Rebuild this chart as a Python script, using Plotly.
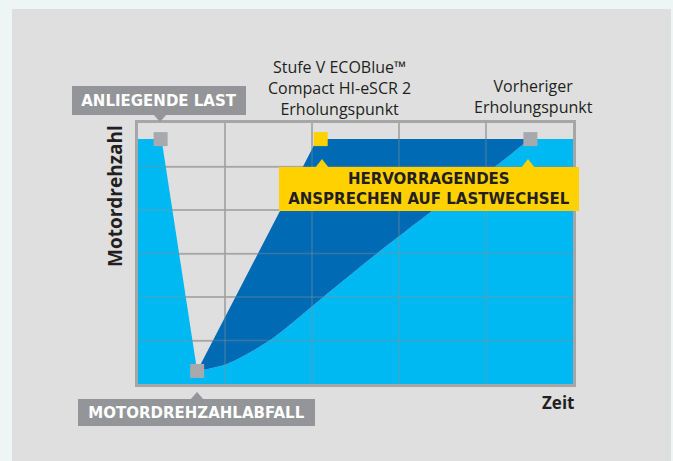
import plotly.graph_objects as go

# ---- data (chart units: x = time columns 0..5, y = engine speed rows 0..6) ----
top_level = 5.63
load_x, load_y = 0.27, 5.63          # "ANLIEGENDE LAST" corner of the light-blue area
drop_x, drop_y = 0.68, 0.30          # "MOTORDREHZAHLABFALL" point
new_rec_x = 2.06                      # Stufe V recovery corner
old_rec_x = 4.50                      # previous recovery point

# previous engine recovery curve (lower edge of dark blue region)
curve_x = [0.68, 1.02, 1.52, 2.13, 2.74, 3.47, 4.16, 4.50]
curve_y = [0.30, 0.46, 1.01, 2.00, 2.99, 4.11, 5.08, 5.63]

marker_x = [0.26, 0.68, 2.10, 4.51]
marker_y = [5.63, 0.30, 5.63, 5.63]
marker_colors = ["#a7a9ac", "#a7a9ac", "#ffd100", "#a7a9ac"]

x_grid = [1, 2, 3, 4]
y_grid = [1, 2, 3, 4, 5]

title_new = ["Stufe V ECOBlue™", "Compact HI-eSCR 2", "Erholungspunkt"]
title_old = ["Vorheriger", "Erholungspunkt"]

LIGHT_BLUE = "#00b9f2"
DARK_BLUE = "#006ab5"
GRAY_BOX = "#939598"
YELLOW = "#ffd100"
TXT = "#231f20"
FONT = "'Open Sans', Roboto, sans-serif"
FONT_BOX = "'DejaVu Sans', 'Open Sans', sans-serif"

# plot area in pixels
L, R, T, B = 138, 573, 123, 384
W, H = 673, 461


def px(x):
    return (x - L) / (R - L)


def py(y):
    return (B - y) / (B - T)


fig = go.Figure()

# light blue region: curve (spline) + outer boundary filled to it
fig.add_trace(go.Scatter(x=curve_x, y=curve_y, mode="lines",
                         line=dict(width=0, shape="spline", smoothing=0.8),
                         hoverinfo="skip"))
lb_x = [drop_x, load_x, 0, 0, 5, 5, old_rec_x]
lb_y = [drop_y, load_y, top_level, 0, 0, top_level, top_level]
fig.add_trace(go.Scatter(x=lb_x, y=lb_y, mode="lines", line=dict(width=0),
                         fill="tonexty", fillcolor=LIGHT_BLUE, hoverinfo="skip"))

# dark blue region: curve again + straight upper boundary
fig.add_trace(go.Scatter(x=curve_x, y=curve_y, mode="lines",
                         line=dict(width=0, shape="spline", smoothing=0.8),
                         hoverinfo="skip"))
db_x = [drop_x, new_rec_x, old_rec_x]
db_y = [drop_y, top_level, top_level]
fig.add_trace(go.Scatter(x=db_x, y=db_y, mode="lines", line=dict(width=0),
                         fill="tonexty", fillcolor=DARK_BLUE, hoverinfo="skip"))

# markers
fig.add_trace(go.Scatter(x=marker_x, y=marker_y, mode="markers",
                         marker=dict(symbol="square", size=14, color=marker_colors,
                                     line=dict(width=0)),
                         hoverinfo="skip", cliponaxis=False))

shapes = []
# grey panel behind everything
shapes.append(dict(type="rect", xref="paper", yref="paper",
                   x0=px(12), x1=px(671), y0=py(H + 5), y1=py(9),
                   fillcolor="#dfdfdf", line=dict(width=0), layer="below"))
# gridlines above the fills
for g in x_grid:
    shapes.append(dict(type="line", xref="x", yref="y", x0=g, x1=g, y0=0, y1=6,
                       line=dict(color="rgba(140,140,140,0.4)", width=1.5), layer="above"))
for g in y_grid:
    shapes.append(dict(type="line", xref="x", yref="y", x0=0, x1=5, y0=g, y1=g,
                       line=dict(color="rgba(140,140,140,0.4)", width=1.5), layer="above"))


def tri(tipx, tipy, basey, half, color):
    return dict(type="path", xref="paper", yref="paper",
                path=f"M {px(tipx - half)},{py(basey)} L {px(tipx + half)},{py(basey)} L {px(tipx)},{py(tipy)} Z",
                fillcolor=color, line=dict(width=0), layer="above")


shapes.append(tri(160, 122, 114, 7, GRAY_BOX))
shapes.append(tri(197, 392, 400, 7, GRAY_BOX))
shapes.append(tri(322, 159, 168, 7, YELLOW))
shapes.append(tri(528, 159, 168, 7, YELLOW))

annotations = []


def box(text, cx, cy, w, h, bg, color, size=15):
    return dict(text=text, xref="paper", yref="paper", x=px(cx), y=py(cy),
                xanchor="center", yanchor="middle", showarrow=False,
                width=w, height=h, bgcolor=bg, borderpad=0, borderwidth=0,
                align="center", valign="middle",
                font=dict(family=FONT_BOX, size=size, color=color, weight="bold"))


annotations.append(box("ANLIEGENDE LAST", 159, 100.5, 174, 29, GRAY_BOX, "white"))
annotations.append(box("MOTORDREHZAHLABFALL", 196.5, 412.5, 237, 27, GRAY_BOX, "white"))
annotations.append(box("HERVORRAGENDES<br>ANSPRECHEN AUF LASTWECHSEL", 429, 189, 300, 44, YELLOW, TXT))


def multi_text(lines, cx, cy, size=16):
    return dict(text="<br>".join(lines), xref="paper", yref="paper", x=px(cx), y=py(cy),
                xanchor="center", yanchor="middle", showarrow=False, align="center",
                font=dict(family=FONT, size=size, color=TXT))


annotations.append(multi_text(title_new, 339, 87.5))
annotations.append(multi_text(title_old, 533, 96.5))

annotations.append(dict(text="Motordrehzahl", xref="paper", yref="paper",
                        x=px(115), y=py(196), xanchor="center", yanchor="middle",
                        textangle=-90, showarrow=False,
                        font=dict(family=FONT, size=19, color=TXT, weight="bold")))
annotations.append(dict(text="Zeit", xref="paper", yref="paper",
                        x=px(558), y=py(402), xanchor="center", yanchor="middle",
                        showarrow=False,
                        font=dict(family=FONT, size=17, color=TXT, weight="bold")))

axis_common = dict(showticklabels=False, ticks="", zeroline=False,
                   showgrid=True, gridcolor="#bababa", gridwidth=1.5, dtick=1,
                   showline=True, linecolor="#a6a6a6", linewidth=3, mirror=True,
                   layer="above traces", fixedrange=True)

fig.update_layout(
    width=W, height=H,
    margin=dict(l=L, r=W - R, t=T, b=H - B, pad=0),
    paper_bgcolor="#eef5f5",
    plot_bgcolor="#f0f0ef",
    showlegend=False,
    xaxis=dict(range=[0, 5], tick0=0, **axis_common),
    yaxis=dict(range=[0, 6], tick0=0, **axis_common),
    shapes=shapes,
    annotations=annotations,
)

fig.write_html("out.html", config={"displayModeBar": False},
               post_script="document.body.style.margin='0px';document.body.style.padding='0px';")
